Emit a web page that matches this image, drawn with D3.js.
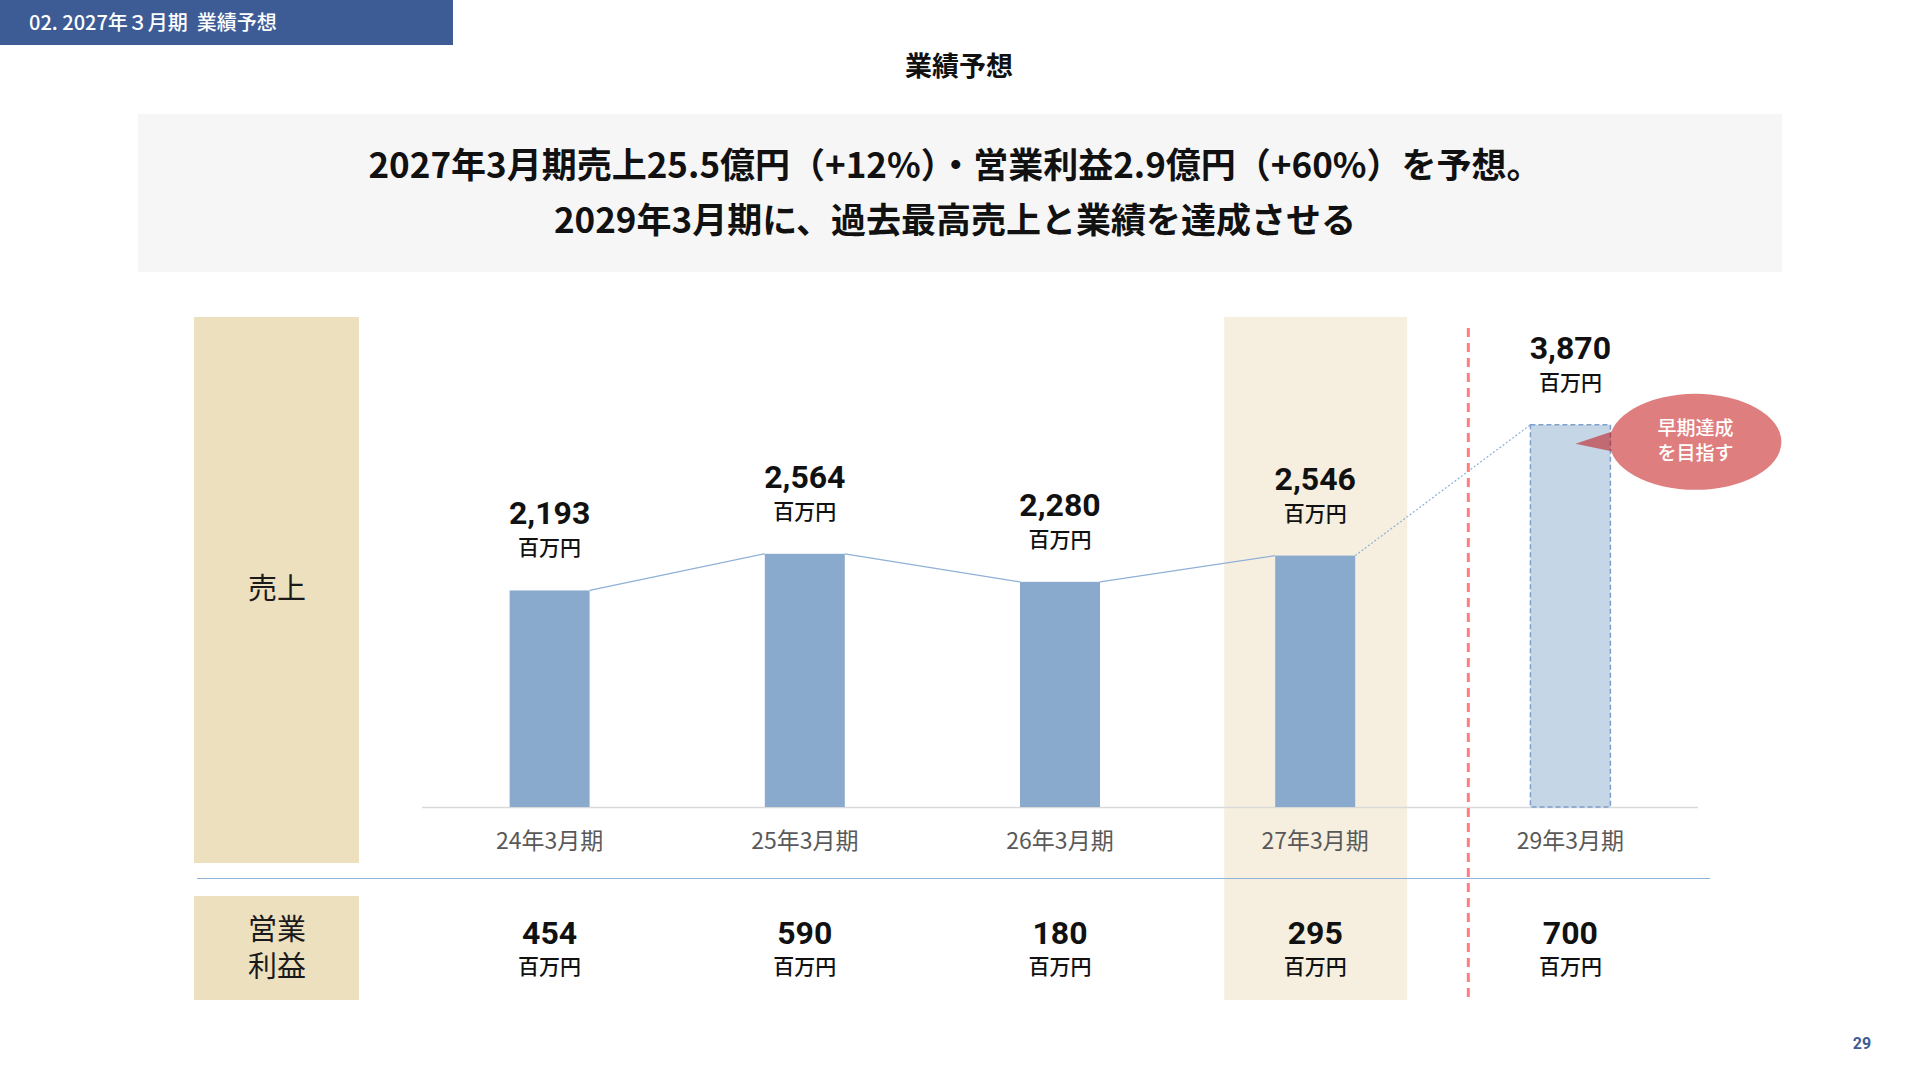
<!DOCTYPE html>
<html>
<head>
<meta charset="utf-8">
<script src="https://cdn.jsdelivr.net/npm/d3@7"></script>
<style>
  body { margin: 0; background: #fff; }
  svg { display: block; font-family: "Noto Sans CJK JP", "Noto Sans", sans-serif; }
</style>
</head>
<body>
<div id="chart"></div>
<script>
const width = 1920;
const height = 1080;

// data
const periods = ["24年3月期", "25年3月期", "26年3月期", "27年3月期", "29年3月期"];
const sales = [2193, 2564, 2280, 2546, 3870];
const opProfit = [454, 590, 180, 295, 700];
const unitLabel = "百万円";
const highlightPeriod = "27年3月期";
const targetPeriod = "29年3月期";
const headline = [
  "2027年3月期売上25.5億円（+12%）・営業利益2.9億円（+60%）を予想。",
  "2029年3月期に、過去最高売上と業績を達成させる"
];
const calloutText = ["早期達成", "を目指す"];

const rows = periods.map((p, i) => ({ period: p, sales: sales[i], op: opProfit[i] }));

const numFont = "Roboto, 'Noto Sans CJK JP', sans-serif";
const fmt = d3.format(",");

const svg = d3.select("#chart").append("svg")
  .attr("width", width)
  .attr("height", height);

// header tab
svg.append("rect")
  .attr("x", 0).attr("y", 0)
  .attr("width", 453).attr("height", 45)
  .attr("fill", "#3d5c96");
svg.append("text")
  .attr("x", 29).attr("y", 30)
  .attr("fill", "#fff")
  .attr("font-size", 20)
  .attr("font-weight", 500)
  .style("white-space", "pre")
  .text("02. 2027年３月期  業績予想");

svg.append("text")
  .attr("x", 959).attr("y", 76)
  .attr("text-anchor", "middle")
  .attr("font-size", 27)
  .attr("font-weight", 700)
  .attr("fill", "#111")
  .text("業績予想");

// headline box
svg.append("rect")
  .attr("x", 138).attr("y", 114)
  .attr("width", 1644).attr("height", 158)
  .attr("fill", "#f6f6f6");
svg.selectAll(".headline")
  .data(headline)
  .join("text")
    .attr("class", "headline")
    .attr("x", 955)
    .attr("y", (d, i) => 178 + i * 55)
    .attr("text-anchor", "middle")
    .attr("font-size", 35)
    .attr("font-weight", 700)
    .attr("fill", "#111")
    .text(d => d);

// scales
const x = d3.scaleBand()
  .domain(periods)
  .range([422, 1698]);

const y = d3.scaleLinear()
  .domain([0, 4000])
  .range([807, 412]);

const barW = 80;
const cx = d => x(d) + x.bandwidth() / 2;

// row label boxes
const labelFill = "#ede0bf";
svg.append("rect")
  .attr("x", 194).attr("y", 317)
  .attr("width", 165).attr("height", 546)
  .attr("fill", labelFill);
svg.append("rect")
  .attr("x", 194).attr("y", 896)
  .attr("width", 165).attr("height", 104)
  .attr("fill", labelFill);

svg.append("text")
  .attr("x", 277).attr("y", 599)
  .attr("text-anchor", "middle")
  .attr("font-size", 29)
  .attr("fill", "#1a1a1a")
  .text("売上");
svg.selectAll(".oplabel")
  .data(["営業", "利益"])
  .join("text")
    .attr("class", "oplabel")
    .attr("x", 277)
    .attr("y", (d, i) => 940 + i * 37)
    .attr("text-anchor", "middle")
    .attr("font-family", numFont)
    .attr("font-size", 29)
    .attr("fill", "#1a1a1a")
    .text(d => d);

// highlighted forecast column
svg.append("rect")
  .attr("x", cx(highlightPeriod) - 91)
  .attr("y", 317)
  .attr("width", 183)
  .attr("height", 683)
  .attr("fill", "#f6efdf");

// axis baseline
svg.append("line")
  .attr("x1", x.range()[0]).attr("x2", x.range()[1])
  .attr("y1", y(0) + 0.5).attr("y2", y(0) + 0.5)
  .attr("stroke", "#d9d9d9")
  .attr("stroke-width", 1.5);

// separator between rows
svg.append("line")
  .attr("x1", 197).attr("x2", 1710)
  .attr("y1", 878.5).attr("y2", 878.5)
  .attr("stroke", "#8fb4dc")
  .attr("stroke-width", 1.2);

// connecting lines between bar tops
svg.selectAll(".link")
  .data(d3.pairs(rows))
  .join("line")
    .attr("class", "link")
    .attr("x1", d => cx(d[0].period) + barW / 2)
    .attr("y1", d => y(d[0].sales))
    .attr("x2", d => cx(d[1].period) - barW / 2)
    .attr("y2", d => y(d[1].sales))
    .attr("stroke", "#8fb0d6")
    .attr("stroke-width", 1.2)
    .attr("stroke-dasharray", d => d[1].period === targetPeriod ? "2,2" : null);

// bars
svg.selectAll(".bar")
  .data(rows)
  .join("rect")
    .attr("class", "bar")
    .attr("x", d => cx(d.period) - barW / 2)
    .attr("y", d => y(d.sales))
    .attr("width", barW)
    .attr("height", d => y(0) - y(d.sales))
    .attr("fill", d => d.period === targetPeriod ? "#c5d6e7" : "#8aaacd")
    .attr("stroke", d => d.period === targetPeriod ? "#7f9fcb" : "none")
    .attr("stroke-width", 1.5)
    .attr("stroke-dasharray", d => d.period === targetPeriod ? "5,3" : null);

// divider before the target year
svg.append("line")
  .attr("x1", x(targetPeriod) + x.step() * 0.1)
  .attr("x2", x(targetPeriod) + x.step() * 0.1)
  .attr("y1", 328).attr("y2", 998)
  .attr("stroke", "#ff7c80")
  .attr("stroke-width", 3)
  .attr("stroke-dasharray", "9,6");

// sales value labels
svg.selectAll(".salesVal")
  .data(rows)
  .join("text")
    .attr("class", "salesVal")
    .attr("x", d => cx(d.period))
    .attr("y", d => y(d.sales) - 66)
    .attr("text-anchor", "middle")
    .attr("font-family", numFont)
    .attr("font-size", 32)
    .attr("font-weight", 700)
    .attr("fill", "#111")
    .text(d => fmt(d.sales));
svg.selectAll(".salesUnit")
  .data(rows)
  .join("text")
    .attr("class", "salesUnit")
    .attr("x", d => cx(d.period))
    .attr("y", d => y(d.sales) - 35)
    .attr("text-anchor", "middle")
    .attr("font-family", numFont)
    .attr("font-size", 21)
    .attr("font-weight", 500)
    .attr("fill", "#111")
    .text(unitLabel);

// period tick labels
svg.selectAll(".tick")
  .data(periods)
  .join("text")
    .attr("class", "tick")
    .attr("x", d => cx(d))
    .attr("y", 849)
    .attr("text-anchor", "middle")
    .attr("font-size", 23)
    .attr("fill", "#595959")
    .text(d => d);

// operating profit row
svg.selectAll(".opVal")
  .data(rows)
  .join("text")
    .attr("class", "opVal")
    .attr("x", d => cx(d.period))
    .attr("y", 944)
    .attr("text-anchor", "middle")
    .attr("font-family", numFont)
    .attr("font-size", 32)
    .attr("font-weight", 700)
    .attr("fill", "#111")
    .text(d => fmt(d.op));
svg.selectAll(".opUnit")
  .data(rows)
  .join("text")
    .attr("class", "opUnit")
    .attr("x", d => cx(d.period))
    .attr("y", 974)
    .attr("text-anchor", "middle")
    .attr("font-family", numFont)
    .attr("font-size", 21)
    .attr("font-weight", 500)
    .attr("fill", "#111")
    .text(unitLabel);

// callout bubble next to the target bar
const target = rows.find(d => d.period === targetPeriod);
const tipX = cx(targetPeriod) + 5;
const tipY = y(target.sales) + 19;
const bx = tipX + 120, by = tipY - 2;
const bubble = svg.append("g")
  .attr("fill", "#c00000")
  .attr("opacity", 0.5);
bubble.append("path")
  .attr("d", `M${tipX},${tipY} L${bx - 72},${by - 14} L${bx - 72},${by + 12} Z`);
bubble.append("ellipse")
  .attr("cx", bx).attr("cy", by)
  .attr("rx", 86).attr("ry", 48);
svg.selectAll(".callout")
  .data(calloutText)
  .join("text")
    .attr("class", "callout")
    .attr("x", bx)
    .attr("y", (d, i) => by - 7 + i * 25)
    .attr("text-anchor", "middle")
    .attr("font-size", 19)
    .attr("font-weight", 500)
    .attr("fill", "#fff")
    .text(d => d);

// page number
svg.append("text")
  .attr("x", 1862).attr("y", 1049)
  .attr("text-anchor", "middle")
  .attr("font-size", 16)
  .attr("font-weight", 700)
  .attr("font-family", "Roboto, sans-serif")
  .attr("fill", "#3d5c96")
  .text("29");
</script>
</body>
</html>
